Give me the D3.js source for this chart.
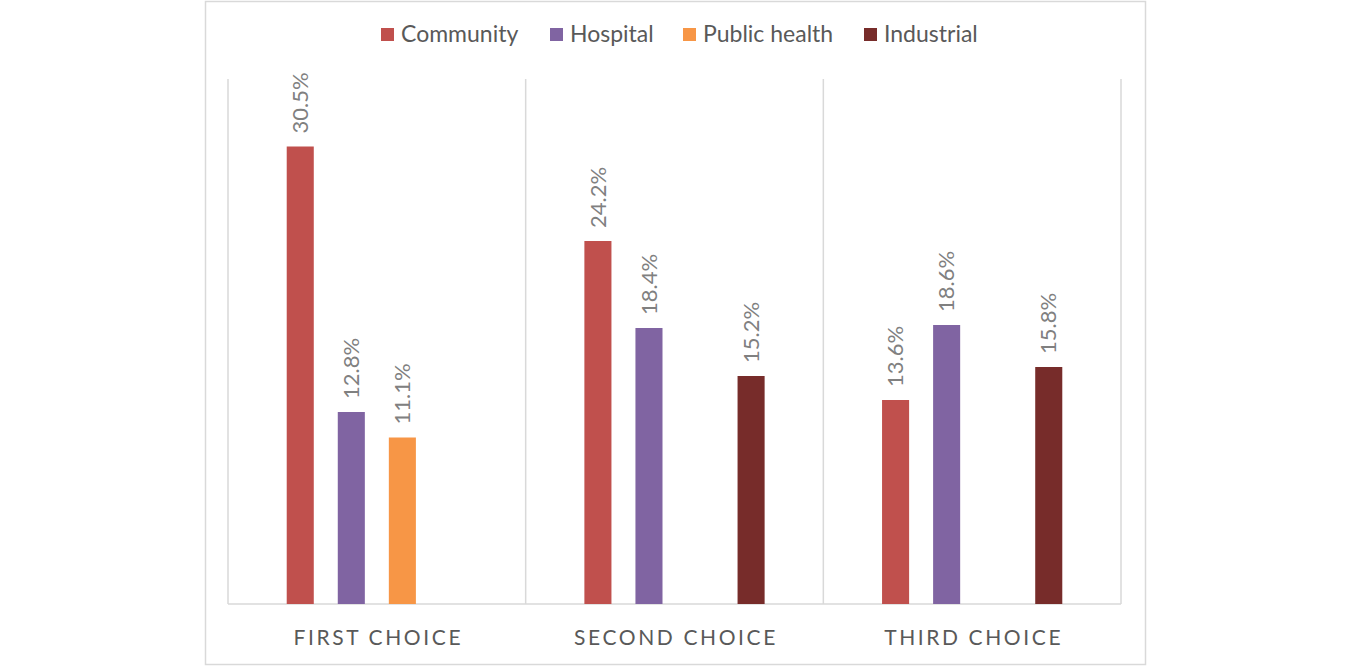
<!DOCTYPE html>
<html><head><meta charset="utf-8">
<script src="https://cdn.jsdelivr.net/npm/d3@7"></script>
<style>body{margin:0;background:#fff}svg{display:block}</style>
</head><body><svg id="c" width="1350" height="666"></svg>
<script>
const categories = ["FIRST CHOICE", "SECOND CHOICE", "THIRD CHOICE"];
const seriesNames = ["Community", "Hospital", "Public health", "Industrial"];
const colors = ["#C0504D", "#8064A2", "#F79646", "#772C2A"];
const community = [30.5, 24.2, 13.6];
const hospital = [12.8, 18.4, 18.6];
const publicHealth = [11.1, null, null];
const industrial = [null, 15.2, 15.8];
const seriesValues = [community, hospital, publicHealth, industrial];

const svg = d3.select("#c");
const font = "Lato, 'Open Sans', sans-serif";

svg.append("rect").attr("x", 205.5).attr("y", 1.5).attr("width", 940).attr("height", 663)
  .attr("fill", "#fff").attr("stroke", "#d9d9d9").attr("stroke-width", 1.5);

const x0 = d3.scaleBand().domain(categories).range([228, 1121]).paddingInner(0).paddingOuter(0);
const x1 = d3.scaleBand().domain(seriesNames).range([0, x0.bandwidth()]).paddingInner(0.47).paddingOuter(1.15);
const y = d3.scaleLinear().domain([0, 35]).range([604, 79]);
const color = d3.scaleOrdinal().domain(seriesNames).range(colors);

// separators
const seps = categories.map(c => x0(c)).concat([x0(categories[categories.length-1]) + x0.bandwidth()]);
svg.selectAll("line.sep").data(seps).join("line").attr("class","sep")
  .attr("x1", d => d).attr("x2", d => d).attr("y1", y(35)).attr("y2", y(0))
  .attr("stroke", "#d9d9d9").attr("stroke-width", 1.5);
svg.append("line").attr("x1", 228).attr("x2", 1121).attr("y1", y(0)).attr("y2", y(0))
  .attr("stroke", "#d9d9d9").attr("stroke-width", 1.5);

const data = [];
categories.forEach((c, i) => seriesNames.forEach((s, j) => {
  const v = seriesValues[j][i];
  if (v != null) data.push({c, s, v});
}));

svg.selectAll("rect.bar").data(data).join("rect").attr("class","bar")
  .attr("x", d => x0(d.c) + x1(d.s)).attr("width", x1.bandwidth())
  .attr("y", d => y(d.v)).attr("height", d => y(0) - y(d.v))
  .attr("fill", d => color(d.s));

svg.selectAll("text.lbl").data(data).join("text").attr("class","lbl")
  .attr("transform", d => `translate(${x0(d.c) + x1(d.s) + x1.bandwidth()/2},${y(d.v) - 13}) rotate(-90)`)
  .attr("dy", "0.35em").attr("text-anchor", "start")
  .attr("font-family", font).attr("font-size", 22).attr("fill", "#808080")
  .text(d => d.v.toFixed(1) + "%");

svg.selectAll("text.cat").data(categories).join("text").attr("class","cat")
  .attr("x", d => x0(d) + x0.bandwidth()/2 + 1.5).attr("y", 645)
  .attr("text-anchor", "middle").attr("font-family", font).attr("font-size", 21)
  .attr("letter-spacing", 2.6).attr("fill", "#595959").text(d => d);

// legend
const legendX = [381, 550, 683, 864];
const lg = svg.selectAll("g.lg").data(seriesNames).join("g").attr("class","lg")
  .attr("transform", (d, i) => `translate(${legendX[i]},28)`);
lg.append("rect").attr("width", 13).attr("height", 13).attr("fill", d => color(d));
lg.append("text").attr("x", 20).attr("y", 13.5).attr("font-family", font).attr("font-size", 23)
  .attr("fill", "#595959").text(d => d);
</script></body></html>
